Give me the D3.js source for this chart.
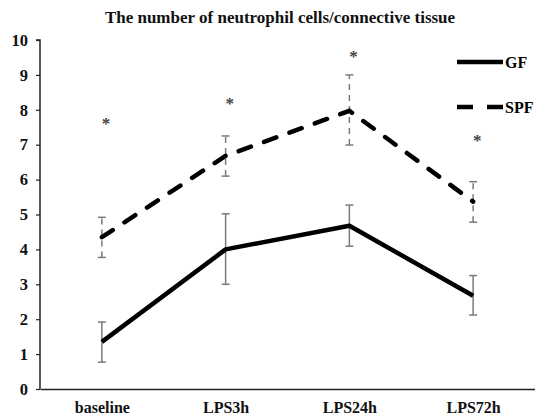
<!DOCTYPE html>
<html>
<head>
<meta charset="utf-8">
<script src="https://cdn.jsdelivr.net/npm/d3@7"></script>
<style>
  body { margin: 0; background: #fff; }
  text { font-family: "Liberation Serif", "DejaVu Serif", serif; font-weight: bold; }
</style>
</head>
<body>
<div class="chart"></div>
<script>
// Data
var categories = ["baseline", "LPS3h", "LPS24h", "LPS72h"];
var gfMean  = [1.35, 4.0, 4.68, 2.67];
var gfLow   = [0.77, 3.0, 4.09, 2.12];
var gfHigh  = [1.92, 5.02, 5.27, 3.25];
var spfMean = [4.35, 6.68, 7.97, 5.37];
var spfLow  = [3.77, 6.10, 6.99, 4.78];
var spfHigh = [4.92, 7.25, 9.0, 5.94];
var starValues = [7.82, 8.38, 9.73, 7.32];
var yTicks = [0, 1, 2, 3, 4, 5, 6, 7, 8, 9, 10];

var svgWidth = 535;
var svgHeight = 417;
var margin = { top: 40, right: 0, bottom: 28, left: 40 };
var width = svgWidth - margin.left - margin.right;
var height = svgHeight - margin.top - margin.bottom;

var svg = d3.select(".chart")
  .append("svg")
  .attr("width", svgWidth)
  .attr("height", svgHeight);

var chartGroup = svg.append("g")
  .attr("transform", `translate(${margin.left}, ${margin.top})`);

var xScale = d3.scalePoint()
  .domain(categories)
  .range([0, width])
  .padding(0.5);

var yScale = d3.scaleLinear()
  .domain([0, 10])
  .range([height, 0]);

// Axes
var leftAxis = d3.axisLeft(yScale).tickValues(yTicks).tickSize(4).tickPadding(8);
var yAxisG = chartGroup.append("g").call(leftAxis);
yAxisG.select(".domain").attr("stroke", "#222").attr("stroke-width", 1.5).attr("d", `M-4,0H0V${height}`);
yAxisG.selectAll(".tick line").attr("stroke", "#222").attr("stroke-width", 1.2);
yAxisG.selectAll(".tick text")
  .attr("font-size", 16.5)
  .attr("fill", "#111")
  .style("font-family", "'Liberation Serif', serif");

var bottomAxis = d3.axisBottom(xScale).tickSize(0).tickPadding(13);
var xAxisG = chartGroup.append("g")
  .attr("transform", `translate(0, ${height})`)
  .call(bottomAxis);
xAxisG.select(".domain").attr("stroke", "#222").attr("stroke-width", 1.5);
xAxisG.selectAll(".tick text")
  .attr("font-size", 16)
  .attr("fill", "#111")
  .style("font-family", "'Liberation Serif', serif");

// Error bars
function errorBars(lows, highs, dashed) {
  var g = chartGroup.append("g")
    .attr("stroke", "#7a7a7a")
    .attr("stroke-width", 1.5)
    .attr("fill", "none");
  categories.forEach(function (c, i) {
    var x = xScale(c);
    g.append("line")
      .attr("x1", x).attr("x2", x)
      .attr("y1", yScale(lows[i])).attr("y2", yScale(highs[i]))
      .attr("stroke-dasharray", dashed ? "6,5" : null);
    g.append("line")
      .attr("x1", x - 4).attr("x2", x + 4)
      .attr("y1", yScale(lows[i])).attr("y2", yScale(lows[i]));
    g.append("line")
      .attr("x1", x - 4).attr("x2", x + 4)
      .attr("y1", yScale(highs[i])).attr("y2", yScale(highs[i]));
  });
}
errorBars(gfLow, gfHigh, false);
errorBars(spfLow, spfHigh, true);

// Lines
var line = d3.line()
  .x((d, i) => xScale(categories[i]))
  .y(d => yScale(d));

chartGroup.append("path")
  .datum(gfMean)
  .attr("d", line)
  .attr("fill", "none")
  .attr("stroke", "#000")
  .attr("stroke-width", 4.5)
  .attr("stroke-linejoin", "round");

chartGroup.append("path")
  .datum(spfMean)
  .attr("d", line)
  .attr("fill", "none")
  .attr("stroke", "#000")
  .attr("stroke-width", 4.5)
  .attr("stroke-linecap", "round")
  .attr("stroke-dasharray", "13,14");

// Significance asterisks
chartGroup.selectAll(".star")
  .data(starValues)
  .enter()
  .append("text")
  .attr("class", "star")
  .attr("x", (d, i) => xScale(categories[i]) + 4)
  .attr("y", d => yScale(d))
  .attr("text-anchor", "middle")
  .attr("dy", "0.75em")
  .attr("font-size", 17)
  .attr("font-weight", "normal")
  .attr("fill", "#444")
  .text("*");

// Legend
var legend = chartGroup.append("g").attr("transform", `translate(${width - 78}, 0)`);
legend.append("line")
  .attr("x1", 0).attr("x2", 46)
  .attr("y1", 22).attr("y2", 22)
  .attr("stroke", "#000").attr("stroke-width", 4.5);
legend.append("text")
  .attr("x", 48).attr("y", 22).attr("dy", "0.35em")
  .attr("font-size", 16).text("GF");
legend.append("line")
  .attr("x1", 0).attr("x2", 46)
  .attr("y1", 67).attr("y2", 67)
  .attr("stroke", "#000").attr("stroke-width", 4.5)
  .attr("stroke-dasharray", "16,14");
legend.append("text")
  .attr("x", 48).attr("y", 67).attr("dy", "0.35em")
  .attr("font-size", 16).text("SPF");

// Title
svg.append("text")
  .attr("x", 280)
  .attr("y", 23)
  .attr("text-anchor", "middle")
  .attr("font-size", 17)
  .attr("fill", "#111")
  .text("The number of neutrophil cells/connective tissue");
</script>
</body>
</html>
